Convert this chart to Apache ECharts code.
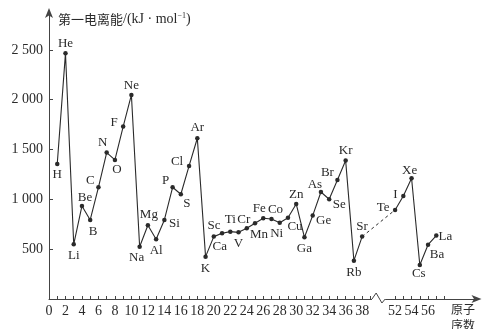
<!DOCTYPE html>
<html><head><meta charset="utf-8">
<script src="https://cdn.jsdelivr.net/npm/echarts@6/dist/echarts.min.js"></script>
<style>html,body{margin:0;padding:0;background:#fff}#c{width:486px;height:329px}</style>
</head><body><div id="c"></div>
<script>
// ---- data ----
const elements = ['H','He','Li','Be','B','C','N','O','F','Ne','Na','Mg','Al','Si','P','S','Cl','Ar','K','Ca','Sc','Ti','V','Cr','Mn','Fe','Co','Ni','Cu','Zn','Ga','Ge','As','Se','Br','Kr','Rb','Sr','Te','I','Xe','Cs','Ba','La'];
const atomicNumbers = [1,2,3,4,5,6,7,8,9,10,11,12,13,14,15,16,17,18,19,20,21,22,23,24,25,26,27,28,29,30,31,32,33,34,35,36,37,38,52,53,54,55,56,57];
const ionizationEnergies = [1355,2467,549,934,793,1121,1469,1396,1730,2048,525,740,599,793,1121,1051,1335,1613,425,626,659,676,669,710,760,810,803,766,816,954,619,837,1074,1001,1195,1389,385,626,894,1034,1212,341,545,636];
const xTickLabels = [0,2,4,6,8,10,12,14,16,18,20,22,24,26,28,30,32,34,36,38,52,54,56];
const yTickValues = [500,1000,1500,2000,2500];
const yTickLabels = ['500','1 000','1 500','2 000','2 500'];

// ---- label placement (styling, not data) ----
const labelOffsets = [[0,11],[0,-10],[0,11],[3,-8],[3,12],[-8,-7],[-4,-10],[2,10],[-9,-4],[0,-9],
  [-3,11],[1,-11],[0,11],[10,4],[-7,-7],[6,9],[-12,-4],[0,-11],[0,12],[6,10],
  [-8,-8],[0,-12],[0,11],[-3,-9],[4,11],[-4,-10],[4,-9],[-3,11],[7,9],[0,-9],
  [0,11],[11,5],[-6,-7],[10,5],[-10,-7],[0,-10],[0,12],[0,-10],[-12,-2],[-8,-1],
  [-2,-8],[-1,9],[9,10],[9,1]];

// axis break: atomic numbers above 40 are shifted left by 10 on the drawn axis
const BREAK_SHIFT = 10;
const toAxis = z => z > 40 ? z - BREAK_SHIFT : z;
const fromAxis = v => v > 40 ? v + BREAK_SHIFT : v;

const serif = "'Liberation Serif','Times New Roman',serif";
const cjk = "'Noto Sans CJK SC',sans-serif";
const ink = '#2a2a2a';

function point(i){
  return {
    value: [toAxis(atomicNumbers[i]), ionizationEnergies[i]],
    label: { show: true, formatter: elements[i], position: 'inside', offset: labelOffsets[i] }
  };
}
const idxSr = elements.indexOf('Sr'), idxTe = elements.indexOf('Te');
const seg1 = [], seg2 = [];
for (let i = 0; i < elements.length; i++) (i <= idxSr ? seg1 : seg2).push(point(i));
const dashed = [[toAxis(atomicNumbers[idxSr]), ionizationEnergies[idxSr]], [toAxis(atomicNumbers[idxTe]), ionizationEnergies[idxTe]]];

const tickVals = [];
for (let z = 0; z <= 39; z++) tickVals.push(toAxis(z));
for (let z = 52; z <= 58; z++) tickVals.push(toAxis(z));

const lineSeries = (data) => ({
  type: 'line', data, symbol: 'circle', symbolSize: 4.5,
  lineStyle: { color: ink, width: 1.1 }, itemStyle: { color: ink },
  label: { color: ink, fontFamily: serif, fontSize: 13 },
  emphasis: { disabled: true }, animation: false, z: 3
});

const chart = echarts.init(document.getElementById('c'), null, { renderer: 'canvas' });
const xName = { type: 'text', left: 451, top: 301, style: { text: '原子\n序数', fontFamily: cjk, fontSize: 12, lineHeight: 16, fill: ink } };
chart.setOption({
  animation: false,
  backgroundColor: '#fff',
  title: {
    left: 53, top: 7,
    text: '{a|第一电离能}{b|/(kJ · mol}{s|−1}{b|)}',
    textStyle: { fontWeight: 'normal', rich: {
      a: { fontFamily: cjk, fontSize: 13, color: ink, fontWeight: 'normal' },
      b: { fontFamily: serif, fontSize: 14, color: ink, fontWeight: 'normal' },
      s: { fontFamily: serif, fontSize: 8, color: ink, fontWeight: 'normal', padding: [0,0,7,0] }
    } }
  },
  grid: { left: 49, right: 8.5, top: 12, bottom: 30, containLabel: false },
  xAxis: {
    type: 'value', min: 0, max: 52,
    axisLine: { show: true, lineStyle: { color: '#444', width: 1 }, symbol: ['none','arrow'], symbolSize: [6, 10], symbolOffset: [0, 4] },
    axisTick: { show: true, inside: true, length: 3, customValues: tickVals, lineStyle: { color: '#444' } },
    axisLabel: { customValues: xTickLabels.map(toAxis), formatter: v => String(fromAxis(v)), fontFamily: serif, fontSize: 14, color: ink, margin: 5 },
    splitLine: { show: false }
  },
  yAxis: {
    type: 'value', min: 0, max: 2880,
    axisLine: { show: true, lineStyle: { color: '#444', width: 1 }, symbol: ['none','arrow'], symbolSize: [6, 10], symbolOffset: [0, 4] },
    axisTick: { show: true, inside: true, length: 4, customValues: yTickValues, lineStyle: { color: '#444' } },
    axisLabel: { customValues: yTickValues, formatter: v => yTickLabels[yTickValues.indexOf(v)], fontFamily: serif, fontSize: 14, color: ink, margin: 6 },
    splitLine: { show: false }
  },
  series: [
    lineSeries(seg1),
    lineSeries(seg2),
    { type: 'line', data: dashed, symbol: 'none', lineStyle: { color: ink, width: 1, type: [3, 3] }, emphasis: { disabled: true }, z: 2 }
  ],
  graphic: [xName]
});

// axis break zigzag (decoration placed through the axis scale)
const p = v => chart.convertToPixel({ xAxisIndex: 0, yAxisIndex: 0 }, [v, 0]);
const a = p(39.2), b = p(39.7), c = p(40.4), d = p(40.8);
chart.setOption({ graphic: [
  xName,
  { type: 'line', shape: { x1: a[0], y1: a[1], x2: d[0], y2: d[1] }, style: { stroke: '#fff', lineWidth: 3 }, z: 10 },
  { type: 'polyline', shape: { points: [[a[0], a[1]], [b[0], a[1] - 6], [c[0], a[1] + 4], [d[0], a[1]]] }, style: { stroke: '#444', lineWidth: 1, fill: null }, z: 11 }
] });
</script></body></html>
